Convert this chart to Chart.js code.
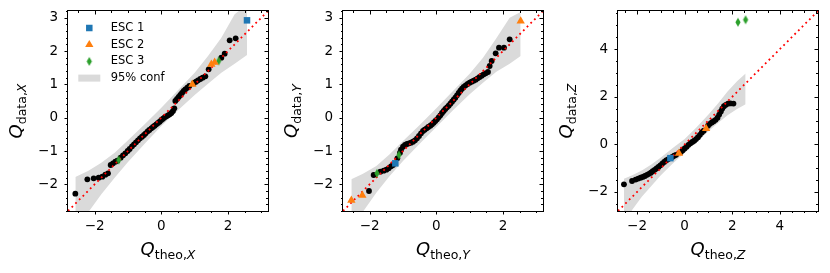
<!DOCTYPE html>
<html>
<head>
<meta charset="utf-8">
<script src="https://cdn.jsdelivr.net/npm/chart.js@4.4.1/dist/chart.umd.min.js"></script>
<style>
  html, body { margin: 0; padding: 0; background: #fff; }
  #fig { position: relative; width: 830px; height: 273px; }
  #fig canvas { position: absolute; top: 0; }
</style>
</head>
<body>
<div id="fig">
  <canvas id="c0" width="275" height="273" style="left:0px"></canvas>
  <canvas id="c1" width="275" height="273" style="left:275px"></canvas>
  <canvas id="c2" width="275" height="273" style="left:550px"></canvas>
</div>
<script>
// ---- data ----
// panel X
const qTheoX = [-2.58,-2.22,-2.03,-1.88,-1.77,-1.68,-1.60,-1.52,-1.45,-1.38,-1.32,-1.22,-1.15,-1.08,-1.01,-0.95,-0.88,-0.82,-0.76,-0.70,-0.64,-0.58,-0.52,-0.47,-0.41,-0.36,-0.30,-0.25,-0.20,-0.15,-0.10,-0.05,0.00,0.05,0.10,0.15,0.20,0.25,0.30,0.35,0.39,0.42,0.47,0.52,0.57,0.62,0.67,0.72,0.78,0.84,0.98,1.04,1.10,1.17,1.24,1.32,1.42,1.80,1.90,2.05,2.23];
const qDataX = [-2.28,-1.85,-1.82,-1.80,-1.77,-1.71,-1.67,-1.42,-1.37,-1.32,-1.29,-1.20,-1.13,-1.07,-1.00,-0.94,-0.86,-0.80,-0.74,-0.68,-0.62,-0.57,-0.52,-0.47,-0.41,-0.37,-0.32,-0.28,-0.24,-0.20,-0.16,-0.12,-0.07,-0.03,0.01,0.04,0.07,0.10,0.14,0.20,0.28,0.50,0.56,0.62,0.68,0.74,0.80,0.85,0.90,0.95,1.04,1.08,1.12,1.16,1.20,1.24,1.45,1.80,1.92,2.32,2.38];
const esc1X = { theo: [2.57], data: [2.92] };
const esc2X = { theo: [0.93, 1.50, 1.60], data: [1.00, 1.60, 1.66] };
const esc3X = { theo: [-1.28, 1.72], data: [-1.27, 1.70] };
const bandTheoX = [-2.58,-2.2,-1.8,-1.4,-1.0,-0.5,0,0.5,1.0,1.4,1.8,2.2,2.57];
const bandLoX = [-3.40,-2.85,-2.30,-1.80,-1.33,-0.78,-0.25,0.22,0.68,1.02,1.35,1.62,1.88];
const bandHiX = [-1.78,-1.60,-1.35,-1.05,-0.68,-0.20,0.30,0.82,1.35,1.85,2.40,3.10,3.40];

// panel Y
const qTheoY = [-2.02,-1.88,-1.68,-1.58,-1.50,-1.43,-1.36,-1.30,-1.17,-1.09,-1.06,-1.00,-0.94,-0.88,-0.82,-0.76,-0.70,-0.64,-0.58,-0.52,-0.46,-0.40,-0.35,-0.29,-0.24,-0.18,-0.13,-0.08,-0.03,0.02,0.07,0.12,0.17,0.22,0.27,0.32,0.37,0.42,0.47,0.52,0.57,0.62,0.67,0.72,0.77,0.82,0.88,0.94,1.00,1.06,1.12,1.18,1.24,1.30,1.36,1.42,1.48,1.55,1.60,1.66,1.78,1.88,2.03,2.20];
const qDataY = [-2.20,-1.72,-1.62,-1.59,-1.56,-1.52,-1.46,-1.42,-1.22,-1.05,-0.96,-0.87,-0.82,-0.79,-0.77,-0.75,-0.72,-0.68,-0.62,-0.55,-0.47,-0.40,-0.36,-0.32,-0.28,-0.24,-0.20,-0.15,-0.10,-0.05,0.01,0.07,0.14,0.20,0.26,0.31,0.36,0.42,0.48,0.54,0.60,0.67,0.74,0.81,0.87,0.92,0.97,1.01,1.05,1.08,1.11,1.14,1.18,1.22,1.26,1.30,1.33,1.37,1.55,1.70,1.93,2.10,2.10,2.35];
const esc1Y = { theo: [-1.23], data: [-1.37] };
const esc2Y = { theo: [-2.55, -2.22, 2.53], data: [-2.48, -2.33, 2.90] };
const esc3Y = { theo: [-1.78, -1.12], data: [-1.67, -1.12] };
const bandTheoY = [-2.55,-2.2,-1.8,-1.4,-1.0,-0.5,0,0.5,1.0,1.4,1.8,2.2,2.53];
const bandLoY = [-3.40,-2.82,-2.25,-1.75,-1.30,-0.78,-0.28,0.22,0.70,1.05,1.38,1.62,1.85];
const bandHiY = [-1.85,-1.68,-1.45,-1.10,-0.70,-0.22,0.28,0.80,1.32,1.80,2.38,3.00,3.17];

// panel Z
const qTheoZ = [-2.55,-2.21,-2.06,-1.95,-1.85,-1.76,-1.67,-1.58,-1.50,-1.42,-1.34,-1.26,-1.18,-1.10,-1.02,-0.94,-0.86,-0.78,-0.70,-0.52,-0.44,-0.36,-0.16,-0.08,0.00,0.08,0.16,0.24,0.32,0.40,0.48,0.56,0.64,0.72,0.80,0.98,1.06,1.14,1.22,1.30,1.38,1.45,1.52,1.58,1.65,1.73,1.82,1.92,2.05];
const qDataZ = [-1.68,-1.54,-1.48,-1.44,-1.40,-1.37,-1.33,-1.28,-1.24,-1.19,-1.13,-1.07,-1.01,-0.95,-0.88,-0.81,-0.74,-0.68,-0.63,-0.53,-0.48,-0.44,-0.32,-0.25,-0.17,-0.10,-0.02,0.05,0.10,0.15,0.22,0.30,0.40,0.50,0.57,0.78,0.86,0.92,0.97,1.03,1.12,1.25,1.38,1.50,1.60,1.66,1.71,1.72,1.71];
const esc1Z = { theo: [-0.60], data: [-0.58] };
const esc2Z = { theo: [-0.24, 0.90], data: [-0.38, 0.66] };
const esc3Z = { theo: [2.24, 2.56], data: [5.13, 5.23] };
const bandTheoZ = [-2.55,-2.2,-1.8,-1.4,-1.0,-0.5,0,0.5,1.0,1.4,1.8,2.2,2.56];
const bandLoZ = [-3.30,-2.75,-2.20,-1.75,-1.30,-0.80,-0.35,0.10,0.55,0.90,1.22,1.48,1.68];
const bandHiZ = [-1.45,-1.30,-1.10,-0.85,-0.55,-0.15,0.22,0.72,1.25,1.72,2.22,2.65,2.97];

// axes
const limXY = [-2.8, 3.2];
const limZ = [-2.8, 5.6];
const ticksXYx = [-2, 0, 2];
const ticksXYy = [-2, -1, 0, 1, 2, 3];
const ticksZ = [-2, 0, 2, 4];
const seriesNames = ['ESC 1', 'ESC 2', 'ESC 3', '95% conf'];
const components = ['X', 'Y', 'Z'];

const FONT = '"DejaVu Sans", sans-serif';
const C_BLUE = '#1f77b4', C_ORANGE = '#ff7f0e', C_GREEN = '#2ca02c', C_BAND = 'rgb(218,218,218)';

Chart.defaults.font.family = FONT;
Chart.defaults.color = '#000';

// matplotlib-like thin diamond marker
function thinDiamond(color) {
    var c = document.createElement('canvas');
    c.width = 8; c.height = 11;
    var g = c.getContext('2d');
    g.fillStyle = color;
    g.beginPath();
    g.moveTo(4, 1); g.lineTo(6.6, 5.5); g.lineTo(4, 10); g.lineTo(1.4, 5.5);
    g.closePath(); g.fill();
    return c;
}
const greenDiamond = thinDiamond(C_GREEN);

function pts(xs, ys) {
    return xs.map((x, i) => ({ x: x, y: ys[i] }));
}
function minus(v) {
    return String(v).replace('-', '\u2212');
}

function drawMath(ctx, sub, comp, x, y, vertical) {
    ctx.save();
    ctx.translate(x, y);
    if (vertical) ctx.rotate(-Math.PI / 2);
    var fMain = 'italic 18px ' + FONT, fSub = '12.5px ' + FONT, fSubIt = 'italic 12.5px ' + FONT;
    ctx.font = fMain; var w1 = ctx.measureText('Q').width;
    ctx.font = fSub; var w2 = ctx.measureText(sub + ',').width;
    ctx.font = fSubIt; var w3 = ctx.measureText(comp).width;
    var cx = -(w1 + w2 + w3) / 2;
    ctx.fillStyle = '#000';
    ctx.textAlign = 'left';
    ctx.textBaseline = 'alphabetic';
    ctx.font = fMain; ctx.fillText('Q', cx, 0); cx += w1;
    ctx.font = fSub; ctx.fillText(sub + ',', cx, 3.5); cx += w2;
    ctx.font = fSubIt; ctx.fillText(comp, cx, 3.5);
    ctx.restore();
}

const frame = {
    id: 'frame',
    afterDatasetsDraw(chart, args, o) {
        var ctx = chart.ctx, a = chart.chartArea;
        var xs = chart.scales.x, ys = chart.scales.y;
        function tickSet(scale, step) {
            var major = scale.ticks.map(t => t.value);
            var out = major.map(v => [v, 3.5]);
            var k0 = Math.ceil(scale.min / step - 1e-9), k1 = Math.floor(scale.max / step + 1e-9);
            for (var k = k0; k <= k1; k++) {
                var v = k * step;
                if (!major.some(m => Math.abs(m - v) < 1e-6)) out.push([v, 2]);
            }
            return out;
        }
        ctx.save();
        ctx.strokeStyle = '#000';
        ctx.lineWidth = 1;
        ctx.beginPath();
        tickSet(xs, o.xMinor).forEach(function(t) {
            var p = Math.round(xs.getPixelForValue(t[0])) + 0.5;
            ctx.moveTo(p, a.bottom); ctx.lineTo(p, a.bottom + t[1]);
            ctx.moveTo(p, a.top); ctx.lineTo(p, a.top + t[1]);
        });
        tickSet(ys, o.yMinor).forEach(function(t) {
            var p = Math.round(ys.getPixelForValue(t[0])) + 0.5;
            ctx.moveTo(a.left, p); ctx.lineTo(a.left - t[1], p);
            ctx.moveTo(a.right, p); ctx.lineTo(a.right - t[1], p);
        });
        ctx.stroke();
        ctx.strokeRect(a.left - 0.5, a.top - 0.5, a.right - a.left + 1, a.bottom - a.top + 1);
        ctx.restore();
    },
    afterDraw(chart, args, o) {
        var ctx = chart.ctx, a = chart.chartArea;
        drawMath(ctx, 'theo', o.comp, (a.left + a.right) / 2, 255, false);
        drawMath(ctx, 'data', o.comp, 22, (a.top + a.bottom) / 2, true);
        if (!o.legend) return;
        ctx.save();
        seriesNames.forEach(function(name, i) {
            var d = chart.data.datasets.find(ds => ds.label === name);
            var y = a.top + 17 + i * 16.7;
            var mx = a.left + 21.3;
            ctx.fillStyle = d.backgroundColor;
            if (d.fill) {
                ctx.fillRect(mx - 11, y - 3.5, 22, 7);
            } else {
                Chart.helpers.drawPoint(ctx, { pointStyle: d.pointStyle, radius: d.pointRadius, borderWidth: 0, rotation: 0 }, mx, y);
            }
            ctx.fillStyle = '#000';
            ctx.font = '11.5px ' + FONT;
            ctx.textBaseline = 'middle';
            ctx.textAlign = 'left';
            ctx.fillText(d.label, a.left + 42.7, y);
        });
        ctx.restore();
    }
};

function makePanel(id, p) {
    var datasets = [
        { type: 'line', data: pts(p.bandTheo, p.bandLo), borderColor: 'rgba(0,0,0,0)', borderWidth: 0, pointRadius: 0, fill: false, order: 10, clip: 0 },
        { type: 'line', label: seriesNames[3], data: pts(p.bandTheo, p.bandHi), borderColor: 'rgba(0,0,0,0)', borderWidth: 0, pointRadius: 0, fill: '-1', backgroundColor: C_BAND, order: 9, clip: 0 },
        { data: pts(p.theo, p.data), pointRadius: 2.9, backgroundColor: '#000', borderWidth: 0, order: 3 },
        { type: 'line', data: [{ x: p.lim[0], y: p.lim[0] }, { x: p.lim[1], y: p.lim[1] }], borderColor: '#ff0000', borderWidth: 1.8, borderDash: [1.8, 3.4], pointRadius: 0, fill: false, order: 2, clip: 0 },
        { label: seriesNames[0], data: pts(p.esc1.theo, p.esc1.data), pointStyle: 'rect', pointRadius: 4.6, backgroundColor: C_BLUE, borderWidth: 0, order: 1 },
        { label: seriesNames[1], data: pts(p.esc2.theo, p.esc2.data), pointStyle: 'triangle', pointRadius: 4.8, backgroundColor: C_ORANGE, borderWidth: 0, order: 1 },
        { label: seriesNames[2], data: pts(p.esc3.theo, p.esc3.data), pointStyle: greenDiamond, pointRadius: 4, backgroundColor: C_GREEN, borderWidth: 0, order: 1 }
    ];
    var tickFont = { size: 13.5, family: FONT };
    return new Chart(document.getElementById(id), {
        type: 'scatter',
        data: { datasets: datasets },
        plugins: [frame],
        options: {
            responsive: false,
            devicePixelRatio: 1,
            animation: false,
            events: [],
            layout: { padding: { top: 11, right: 7, left: 0, bottom: 0 } },
            plugins: {
                legend: { display: false },
                tooltip: { enabled: false },
                frame: { xMinor: p.xMinor, yMinor: p.yMinor, comp: p.comp, legend: p.legend }
            },
            scales: {
                x: {
                    type: 'linear', min: p.lim[0], max: p.lim[1],
                    grid: { display: false, drawTicks: false }, border: { display: false },
                    afterBuildTicks: s => { s.ticks = p.xTicks.map(v => ({ value: v })); },
                    afterFit: s => { s.height = 62; s.paddingLeft = 0; s.paddingRight = 0; },
                    ticks: { font: tickFont, color: '#000', padding: 7, maxRotation: 0, autoSkip: false, callback: v => minus(v) }
                },
                y: {
                    type: 'linear', min: p.lim[0], max: p.lim[1],
                    grid: { display: false, drawTicks: false }, border: { display: false },
                    afterBuildTicks: s => { s.ticks = p.yTicks.map(v => ({ value: v })); },
                    afterFit: s => { s.width = 68; s.paddingTop = 0; s.paddingBottom = 0; },
                    ticks: { font: tickFont, color: '#000', padding: 10, autoSkip: false, callback: v => minus(v) }
                }
            }
        }
    });
}

makePanel('c0', { theo: qTheoX, data: qDataX, esc1: esc1X, esc2: esc2X, esc3: esc3X,
    bandTheo: bandTheoX, bandLo: bandLoX, bandHi: bandHiX, lim: limXY,
    xTicks: ticksXYx, yTicks: ticksXYy, xMinor: 0.5, yMinor: 0.2, comp: components[0], legend: true });
makePanel('c1', { theo: qTheoY, data: qDataY, esc1: esc1Y, esc2: esc2Y, esc3: esc3Y,
    bandTheo: bandTheoY, bandLo: bandLoY, bandHi: bandHiY, lim: limXY,
    xTicks: ticksXYx, yTicks: ticksXYy, xMinor: 0.5, yMinor: 0.2, comp: components[1], legend: false });
makePanel('c2', { theo: qTheoZ, data: qDataZ, esc1: esc1Z, esc2: esc2Z, esc3: esc3Z,
    bandTheo: bandTheoZ, bandLo: bandLoZ, bandHi: bandHiZ, lim: limZ,
    xTicks: ticksZ, yTicks: ticksZ, xMinor: 0.5, yMinor: 0.5, comp: components[2], legend: false });
</script>
</body>
</html>
